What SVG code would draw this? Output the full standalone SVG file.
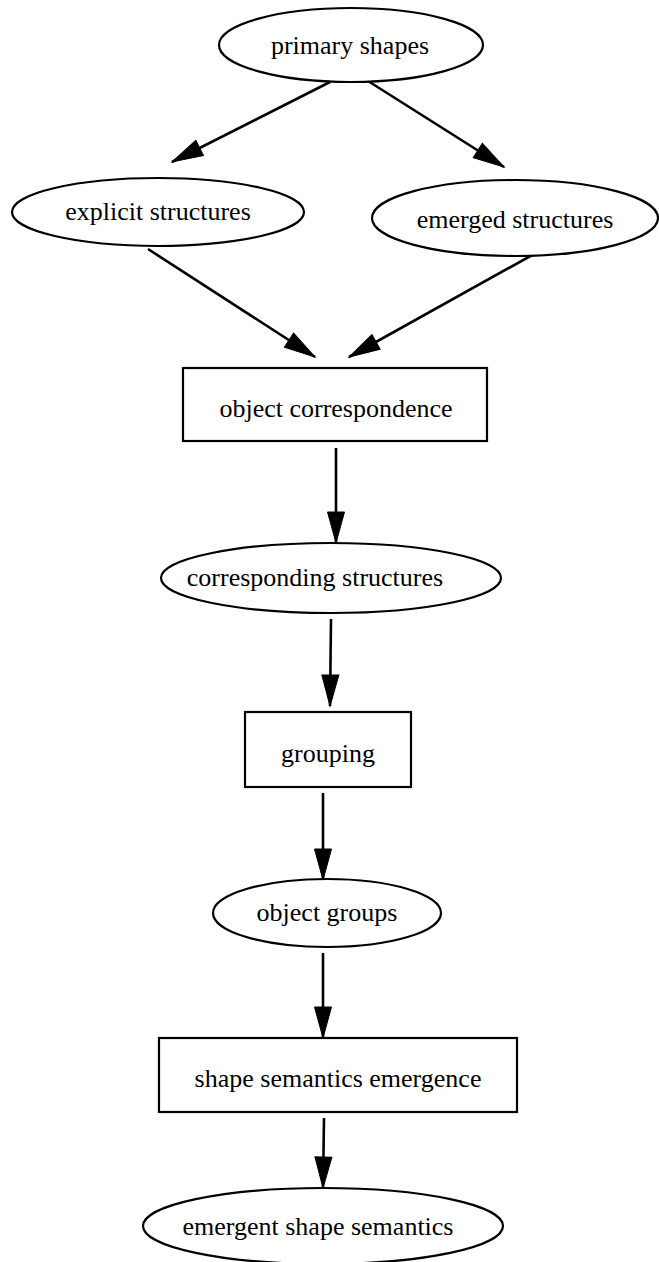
<svg xmlns="http://www.w3.org/2000/svg" width="659" height="1262" viewBox="0 0 659 1262">
  <style>
    .node ellipse, .node rect { fill: #ffffff; stroke: #000000; stroke-width: 2.2; }
    .node text { font-family: "Liberation Serif", "Times New Roman", serif; font-size: 26px; fill: #000000; text-anchor: middle; dominant-baseline: central; }
    .edge { stroke: #000000; stroke-width: 2.6; fill: none; marker-end: url(#arrow); }
  </style>
  <defs>
    <marker id="arrow" markerUnits="userSpaceOnUse" markerWidth="34" markerHeight="20" refX="32" refY="9.5" orient="auto">
      <path d="M1,1 L32,9.5 L1,18 z" fill="#000000" stroke="#000000" stroke-width="1"/>
    </marker>
  </defs>
  <rect width="659" height="1262" fill="#ffffff"/>

  <g id="connectors">
    <line class="edge" x1="330" y1="82" x2="172" y2="162"/>
    <line class="edge" x1="368" y1="81" x2="504" y2="167"/>
    <line class="edge" x1="148" y1="249" x2="315" y2="357"/>
    <line class="edge" x1="534" y1="254" x2="349" y2="357"/>
    <line class="edge" x1="336" y1="448" x2="336" y2="543"/>
    <line class="edge" x1="331" y1="619" x2="330" y2="706"/>
    <line class="edge" x1="323" y1="793" x2="323" y2="880"/>
    <line class="edge" x1="323" y1="953" x2="323" y2="1038"/>
    <line class="edge" x1="324" y1="1118" x2="323" y2="1188"/>
  </g>

  <g id="primary-shapes" class="node">
    <ellipse cx="351" cy="45" rx="132" ry="37"/>
    <text x="350" y="45">primary shapes</text>
  </g>
  <g id="explicit-structures" class="node">
    <ellipse cx="158" cy="212" rx="146" ry="34"/>
    <text x="158" y="211">explicit structures</text>
  </g>
  <g id="emerged-structures" class="node">
    <ellipse cx="515" cy="218" rx="143" ry="38"/>
    <text x="515" y="219">emerged structures</text>
  </g>
  <g id="object-correspondence" class="node">
    <rect x="183" y="368" width="304" height="73"/>
    <text x="336" y="408">object correspondence</text>
  </g>
  <g id="corresponding-structures" class="node">
    <ellipse cx="331" cy="578" rx="170" ry="35"/>
    <text x="315" y="577">corresponding structures</text>
  </g>
  <g id="grouping" class="node">
    <rect x="245" y="712" width="166" height="75"/>
    <text x="328" y="753">grouping</text>
  </g>
  <g id="object-groups" class="node">
    <ellipse cx="327" cy="913" rx="114" ry="34"/>
    <text x="327" y="912">object groups</text>
  </g>
  <g id="shape-semantics-emergence" class="node">
    <rect x="159" y="1038" width="358" height="74"/>
    <text x="338" y="1078">shape semantics emergence</text>
  </g>
  <g id="emergent-shape-semantics" class="node">
    <ellipse cx="323" cy="1226" rx="180" ry="38"/>
    <text x="318" y="1226">emergent shape semantics</text>
  </g>
</svg>
